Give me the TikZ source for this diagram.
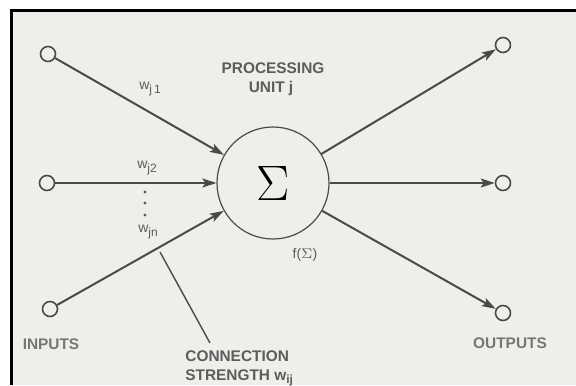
\documentclass[tikz,border=0pt]{standalone}
\usepackage{fontspec}
\setmainfont{Liberation Sans}
\usetikzlibrary{arrows.meta}
\definecolor{paper}{HTML}{EFEEEA}
\definecolor{ink}{HTML}{4A4A4A}
\definecolor{txt}{HTML}{5C5C5C}
\definecolor{txtlight}{HTML}{767676}
% weight label: w with a lowered index
\newcommand\wsub[1]{w\raisebox{-1.8pt}{\fontsize{6}{7}\selectfont #1}}
\begin{document}
\begin{tikzpicture}[x=0.5pt,y=-0.5pt,
  port/.style={circle,draw=ink,line width=0.8pt,minimum size=7.5pt,inner sep=0pt},
  unit/.style={circle,draw=ink,line width=0.6pt,minimum size=56pt,inner sep=0pt},
  link/.style={draw=ink,line width=1pt,-{Stealth[length=7pt,width=4.5pt,inset=1.5pt]}},
  lbl/.style={text=txt,font=\bfseries\fontsize{7.7}{9}\selectfont,inner sep=0pt},
  side/.style={lbl,text=txtlight},
  wt/.style={text=txt,font=\fontsize{7}{8}\selectfont,inner sep=0pt},
  dot/.style={circle,fill=txt,minimum size=1.6pt,inner sep=0pt}]
\useasboundingbox (0,0) rectangle (576,385);
% page and frame
\fill[white] (0,0) rectangle (576,385);
\fill[paper] (11,11) rectangle (576,385);
\draw[black,line width=1.5pt] (11,385) -- (11,11) -- (576,11);

% processing unit
\node[unit] (sum) at (273,183) {\fontsize{24}{24}\selectfont$\Sigma$};

% inputs and outputs
\node[port] (in1) at (48,54) {};
\node[port] (in2) at (47,183) {};
\node[port] (in3) at (50,309) {};
\node[port] (out1) at (503,45) {};
\node[port] (out2) at (503,183) {};
\node[port] (out3) at (503,313) {};

\draw[link] (in1) -- (sum);
\draw[link] (in2) -- (sum);
\draw[link] (in3) -- (sum);
\draw[link] (sum) -- (out1);
\draw[link] (sum) -- (out2);
\draw[link] (sum) -- (out3);

% labels
\node[lbl] (title1) at (273,68) {PROCESSING};
\node[lbl] (title2) at (271,89) {UNIT j};
\node[wt] (w1) at (150,89) {\wsub{j\,1}};
\node[wt] (w2) at (147,168) {\wsub{j2}};
\node[dot] (d1) at (145,192) {};
\node[dot] (d2) at (145,203) {};
\node[dot] (d3) at (145,215) {};
\node[wt] (wn) at (148,232) {\wsub{jn}};
\node[wt] (fs) at (305,255) {f(\ensuremath{\Sigma})};
\node[side] (inl) at (51,344) {INPUTS};
\node[side] (outl) at (510,343) {OUTPUTS};
\node[lbl,anchor=base west] (cs1) at (185,361) {CONNECTION};
\node[lbl,anchor=base west] (cs2) at (185,380) {STRENGTH \wsub{ij}};

% pointer to the weights
\coordinate (lead1) at (160,252);
\coordinate (lead2) at (210,343);
\draw[ink,line width=0.7pt] (lead1) -- (lead2);
\end{tikzpicture}
\end{document}
